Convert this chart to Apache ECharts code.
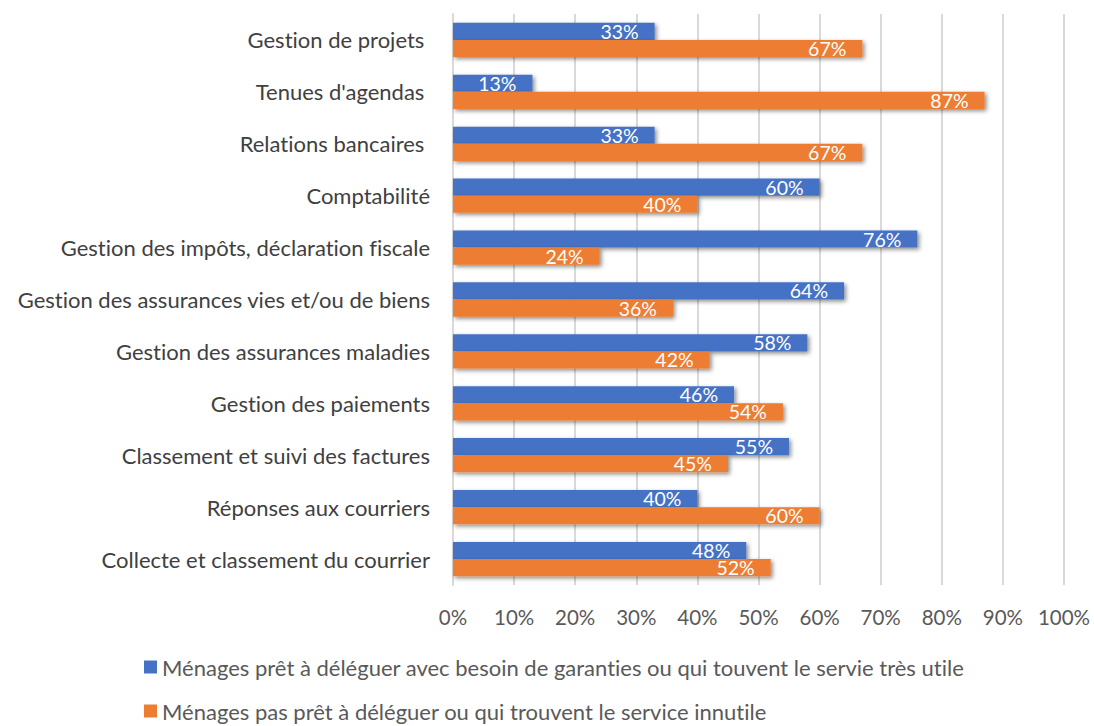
<!DOCTYPE html>
<html><head><meta charset="utf-8">
<script src="https://cdn.jsdelivr.net/npm/echarts@6/dist/echarts.min.js"></script>
<style>html,body{margin:0;padding:0;background:#fff}#c{width:1094px;height:726px}#c text{font-variant-ligatures:none;font-feature-settings:"liga" 0,"clig" 0}</style>
</head><body><div id="c"></div>
<script>
const categories = [
  "Collecte et classement du courrier",
  "Réponses aux courriers",
  "Classement et suivi des factures",
  "Gestion des paiements",
  "Gestion des assurances maladies",
  "Gestion des assurances vies et/ou de biens",
  "Gestion des impôts, déclaration fiscale",
  "Comptabilité",
  "Relations bancaires ",
  "Tenues d'agendas ",
  "Gestion de projets "
];
const seriesNames = [
  "Ménages prêt à déléguer avec besoin de garanties ou qui touvent le servie très utile",
  "Ménages pas prêt à déléguer ou qui trouvent le service innutile"
];
const readyValues = [48, 40, 55, 46, 58, 64, 76, 60, 33, 13, 33];
const notReadyValues = [52, 60, 45, 54, 42, 36, 24, 40, 67, 87, 67];

const FONT = "Lato";
const chart = echarts.init(document.getElementById('c'), null, {renderer: 'svg'});
const labelCfg = {
  show: true, position: 'insideRight', distance: 16,
  color: '#fff', fontSize: 19.5, lineHeight: 14, fontFamily: FONT,
  formatter: p => p.value + '%'
};
const shadow = {shadowColor: 'rgba(0,0,0,0.45)', shadowBlur: 4, shadowOffsetX: 2, shadowOffsetY: 2};
const legendBase = {
  orient: 'horizontal', left: 144, padding: 0, itemWidth: 13, itemHeight: 13, icon: 'rect',
  textStyle: {fontSize: 22, lineHeight: 20, color: '#595959', fontFamily: FONT}
};
chart.setOption({
  animation: false,
  textStyle: {fontFamily: FONT},
  grid: {left: 453, right: 30, top: 14, bottom: 141, containLabel: false},
  legend: [
    Object.assign({top: 656, data: [seriesNames[0]]}, legendBase),
    Object.assign({top: 700, data: [seriesNames[1]]}, legendBase)
  ],
  xAxis: {
    type: 'value', min: 0, max: 100, interval: 10,
    axisLabel: {formatter: '{value}%', fontSize: 20.5, color: '#595959', margin: 21, fontFamily: FONT},
    splitLine: {lineStyle: {color: '#d9d9d9', width: 2}},
    axisLine: {show: false}, axisTick: {show: false}
  },
  yAxis: {
    type: 'category', data: categories,
    axisLabel: {fontSize: 22, color: '#404040', margin: 23, fontFamily: FONT},
    axisLine: {show: true, lineStyle: {color: '#d9d9d9', width: 2}},
    axisTick: {show: false}
  },
  series: [
    {name: seriesNames[0], type: 'bar', data: readyValues, barGap: '0%', barCategoryGap: '34%',
     itemStyle: Object.assign({color: '#4472C4'}, shadow), label: labelCfg},
    {name: seriesNames[1], type: 'bar', data: notReadyValues, barGap: '0%', barCategoryGap: '34%',
     itemStyle: Object.assign({color: '#ED7D31'}, shadow), label: labelCfg}
  ]
});
</script></body></html>
